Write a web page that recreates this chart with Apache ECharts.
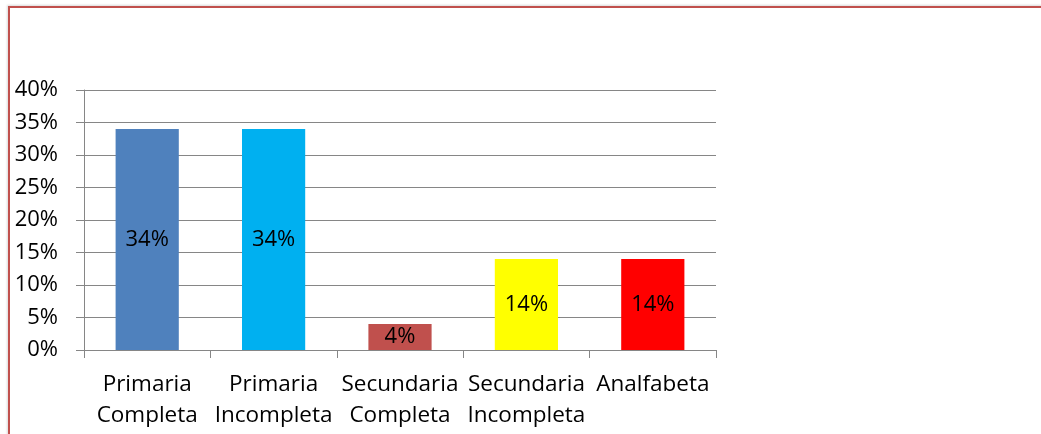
<!DOCTYPE html>
<html>
<head>
<meta charset="utf-8">
<script src="https://cdn.jsdelivr.net/npm/echarts@6/dist/echarts.min.js"></script>
<style>
  html, body { margin: 0; padding: 0; background: #fff; }
  #frame {
    position: absolute; left: 8px; top: 6px; width: 1033px; height: 428px;
    border-top: 2px solid #c0504d; border-left: 2px solid #c0504d;
    box-shadow: -1px -1px 2px rgba(0,0,0,0.15);
  }
  #chart { position: absolute; left: 0; top: 0; width: 1041px; height: 434px; }
</style>
</head>
<body>
<div id="frame"></div>
<div id="chart"></div>
<script>
// education level shares (percent)
var categories = ['Primaria\nCompleta', 'Primaria\nIncompleta', 'Secundaria\nCompleta', 'Secundaria\nIncompleta', 'Analfabeta']
var values = [34, 34, 4, 14, 14]
var colors = ['#4f81bd', '#00b0f0', '#c0504d', '#ffff00', '#ff0000']
var yTicks = [0, 5, 10, 15, 20, 25, 30, 35, 40]

var font = '"Open Sans", sans-serif'
var chart = echarts.init(document.getElementById('chart'))
chart.setOption({
  animation: false,
  grid: { left: 84, right: 325, top: 90, bottom: 84 },
  xAxis: {
    type: 'category',
    data: categories,
    axisLine: { lineStyle: { color: '#868686', width: 1 } },
    axisTick: { show: true, length: 8, lineStyle: { color: '#868686' } },
    axisLabel: { color: '#000', fontSize: 22.5, fontFamily: font, lineHeight: 31, margin: 19, interval: 0 }
  },
  yAxis: {
    type: 'value',
    min: yTicks[0],
    max: yTicks[yTicks.length - 1],
    interval: 5,
    axisLine: { show: true, lineStyle: { color: '#868686', width: 1 } },
    axisTick: { show: true, length: 8, lineStyle: { color: '#868686' } },
    splitLine: { lineStyle: { color: '#868686', width: 1 } },
    axisLabel: { color: '#000', fontSize: 22, fontFamily: font, margin: 26, formatter: '{value}%' }
  },
  series: [{
    type: 'bar',
    barWidth: '50%',
    data: values.map(function (v, i) {
      return { value: v, itemStyle: { color: colors[i] } }
    }),
    label: {
      show: true,
      position: 'inside',
      color: '#000',
      fontSize: 22,
      fontFamily: font,
      formatter: '{c}%'
    }
  }]
})
</script>
</body>
</html>
